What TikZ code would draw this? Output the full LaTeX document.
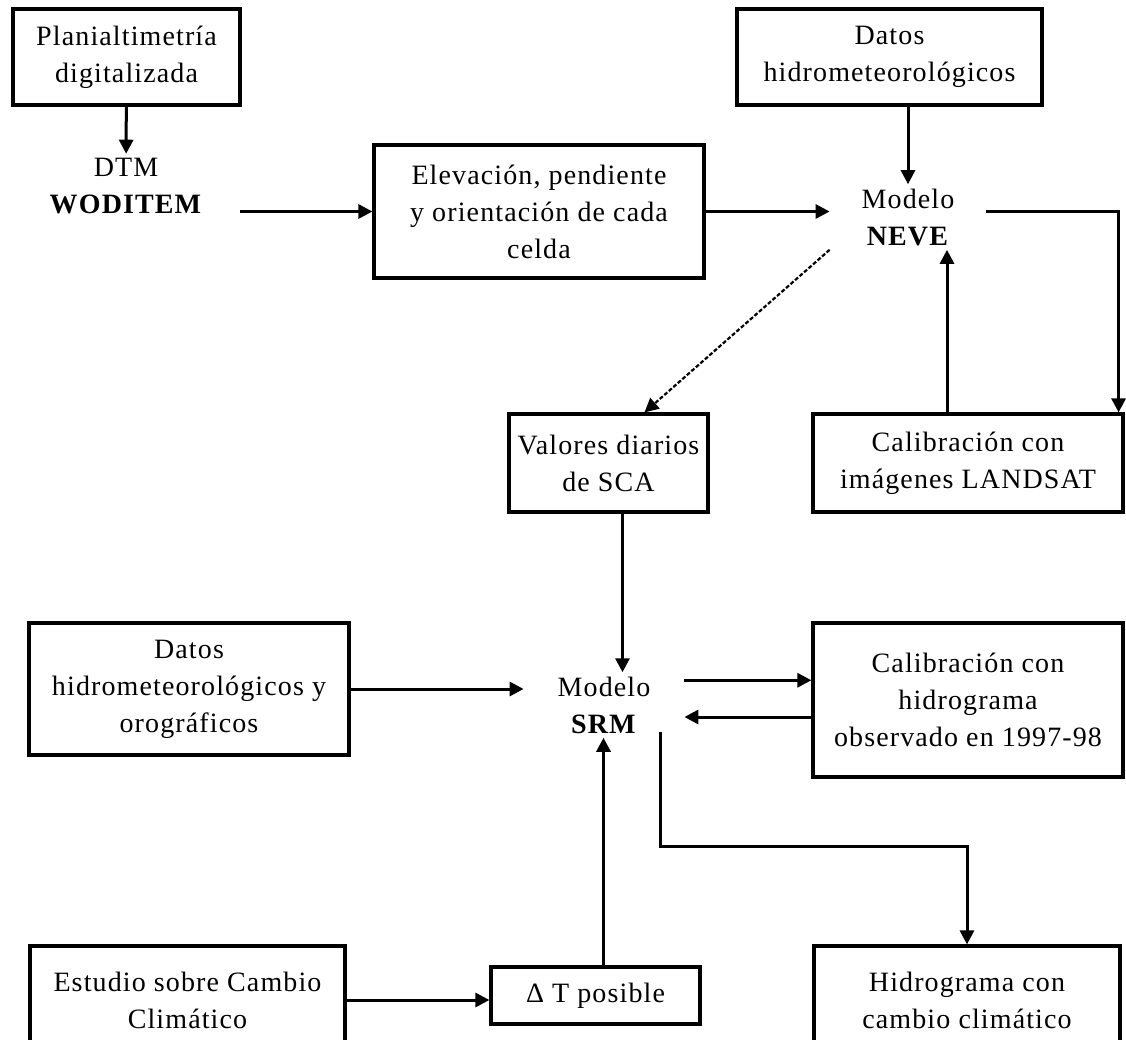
\documentclass[tikz,border=0pt]{standalone}
\usepackage{fontspec}
\setmainfont[LetterSpace=4]{Liberation Serif}
\usetikzlibrary{arrows.meta,positioning,calc}

\begin{document}
\begin{tikzpicture}[x=0.5pt,y=-0.5pt,
    every node/.style={font=\fontsize{14}{18.5}\selectfont},
    box/.style={draw, line width=1.6pt, align=center, inner sep=2pt},
    txt/.style={align=center, inner sep=2pt},
    arr/.style={line width=1.5pt, -{Triangle[length=7pt,width=7pt]}}]
    \useasboundingbox (0,0) rectangle (1126,1040);
    % Upper part: DTM and NEVE
    \node[box, minimum width=113.5pt, minimum height=48pt] (plani) at (126.5,57) {Planialtimetría\\digitalizada};
    \node[txt, minimum width=114pt] (dtm) at (126,186) {DTM\\\textbf{WODITEM}};
    \node[box, minimum width=165pt, minimum height=66.5pt] (elev) at (539,211.5) {Elevación, pendiente\\y orientación de cada\\celda};
    \node[box, minimum width=152.5pt, minimum height=48pt] (datosA) at (889.5,57) {Datos\\hidrometeorológicos};
    \node[txt, minimum width=78pt] (neve) at (908,217) {Modelo\\\textbf{NEVE}};
    \node[box, minimum width=99.5pt, minimum height=49pt] (valores) at (608.5,463) {Valores diarios\\de SCA};
    \node[box, minimum width=155pt, minimum height=49pt] (landsat) at (968,463) {Calibración con\\imágenes LANDSAT};
    % Lower part: SRM
    \node[box, minimum width=160pt, minimum height=66pt] (datosB) at (189,689) {Datos\\hidrometeorológicos y\\orográficos};
    \node[txt, minimum width=80pt] (srm) at (604,705) {Modelo\\\textbf{SRM}};
    \node[box, minimum width=155pt, minimum height=77pt] (calhid) at (968,700) {Calibración con\\hidrograma\\observado en 1997-98};
    \node[box, minimum width=157.5pt, minimum height=54pt] (estudio) at (187.5,1000) {Estudio sobre Cambio\\Climático};
    \node[box, minimum width=104.5pt, minimum height=28.5pt] (deltat) at (595.5,995.5) {Δ T posible};
    \node[box, minimum width=153pt, minimum height=54pt] (hidro) at (967,1000) {Hidrograma con\\cambio climático};

    \coordinate (up) at ([xshift=-10.5pt]landsat.north);
    \coordinate (sca) at ([xshift=7pt]valores.south);
    \coordinate (s1) at ([yshift=-4pt]srm.north east);
    \coordinate (s2) at ([yshift=-6pt]srm.east);
    \coordinate (s3) at ([xshift=28pt,yshift=3pt]srm.south);
    \coordinate (dt) at ([xshift=4pt]deltat.north);

    \draw[arr] (plani) -- (dtm);
    \draw[arr] (elev.west -| dtm.east) -- (elev.west);
    \draw[arr] (elev.east) -- (elev.east -| neve.west);
    \draw[arr] (neve.north |- datosA.south) -- (neve.north);
    \draw[arr] (elev.east -| neve.east) -| ([xshift=-3pt]landsat.north east);
    \draw[arr] (up) -- (up |- neve.south);
    \draw[line width=1.1pt, dash pattern=on 2pt off 1pt, -{Triangle[length=7pt,width=7pt]}] (neve.south west) -- ([xshift=18pt]valores.north);
    \draw[arr] (sca) -- (sca |- srm.north);
    \draw[arr] (datosB.east) -- (datosB.east -| srm.west);
    \draw[arr] (s1) -- (s1 -| calhid.west);
    \draw[arr] (s2 -| calhid.west) -- (s2);
    \draw[arr] (dt) -- (dt |- srm.south);
    \draw[arr] (s3) -- ++(0,115) -| (hidro.north);
    \draw[arr] (estudio.east) -- (estudio.east -| deltat.west);
\end{tikzpicture}
\end{document}
